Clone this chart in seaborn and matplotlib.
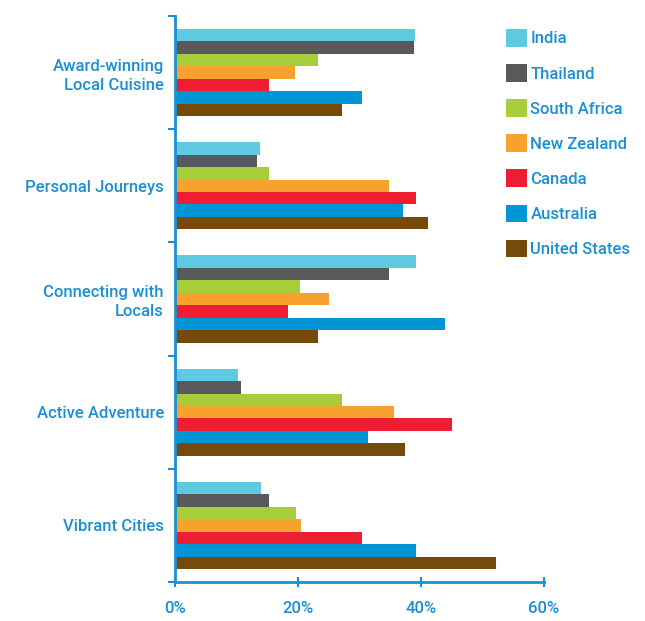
import numpy as np
import pandas as pd
import seaborn as sns
import matplotlib.pyplot as plt
from matplotlib.ticker import FixedLocator

categories = ["Award-winning\nLocal Cuisine", "Personal Journeys", "Connecting with\nLocals",
              "Active Adventure", "Vibrant Cities"]
countries = ["India", "Thailand", "South Africa", "New Zealand", "Canada", "Australia", "United States"]

india = [39.1, 13.9, 39.2, 10.2, 14.0]
thailand = [38.8, 13.3, 34.8, 10.7, 15.3]
south_africa = [23.3, 15.3, 20.3, 27.2, 19.7]
new_zealand = [19.5, 34.8, 25.0, 35.6, 20.5]
canada = [15.3, 39.2, 18.4, 45.0, 30.4]
australia = [30.4, 37.1, 43.9, 31.4, 39.2]
united_states = [27.2, 41.1, 23.3, 37.4, 52.2]

x_ticks = [0, 20, 40, 60]
x_tick_labels = ["0%", "20%", "40%", "60%"]

colors = ["#5fc9e2", "#58595b", "#a8cd3a", "#f7a12e", "#ee1e32", "#0096d6", "#754a0a"]
text_blue = "#1b8fd2"

series = [india, thailand, south_africa, new_zealand, canada, australia, united_states]
rows = []
for country, vals in zip(countries, series):
    for cat, v in zip(categories, vals):
        rows.append({"category": cat, "country": country, "value": v})
df = pd.DataFrame(rows)

sns.set_style("white")
plt.rcParams['font.family'] = ['Roboto', 'DejaVu Sans']
fs = 12

fig = plt.figure(figsize=(6.45, 6.21), dpi=100)
ax = fig.add_axes([175 / 645, 1 - 582 / 621, 369 / 645, 566 / 621])

sns.barplot(data=df, y="category", x="value", hue="country", order=categories,
            hue_order=countries, palette=colors, orient="h", width=0.77,
            saturation=1, linewidth=0, ax=ax, errorbar=None)

ax.set_xlim(0, 60)
ax.set_ylim(4.5, -0.5)
ax.set_xlabel("")
ax.set_ylabel("")

for side in ["top", "right"]:
    ax.spines[side].set_visible(False)
for side in ["left", "bottom"]:
    ax.spines[side].set_color(text_blue)
    ax.spines[side].set_linewidth(2)

ax.set_xticks(x_ticks)
ax.set_xticklabels(x_tick_labels, color=text_blue, fontsize=fs)
ax.tick_params(axis="x", bottom=True, direction="inout", length=7, width=1.5,
               color=text_blue, pad=10)

ax.set_yticks(range(len(categories)))
ax.set_yticklabels(categories, color=text_blue, fontsize=fs, linespacing=1.3)
ax.tick_params(axis="y", which="major", left=True, length=0, pad=8)
ax.yaxis.set_minor_locator(FixedLocator(np.arange(-0.5, 5, 1)))
ax.tick_params(axis="y", which="minor", left=True, direction="out", length=5,
               width=1.5, color=text_blue)

for lab in ax.get_xticklabels() + ax.get_yticklabels():
    lab.set_fontweight("medium")

handles, labels = ax.get_legend_handles_labels()
ax.legend_.remove()
leg = fig.legend(handles, labels, loc="upper left", bbox_to_anchor=(506 / 645, 1 - 29 / 621),
                 frameon=False, borderpad=0, borderaxespad=0, fontsize=fs,
                 handlelength=1.25, handleheight=1.25, handletextpad=0.22, labelspacing=1.05)
for t in leg.get_texts():
    t.set_color(text_blue)
    t.set_fontweight("medium")

fig.savefig("out.png", dpi=100)
